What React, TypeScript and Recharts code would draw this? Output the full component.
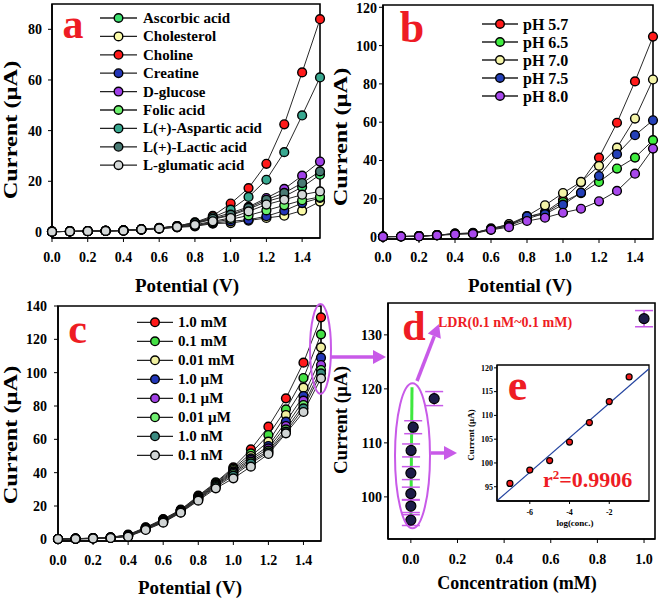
import { LineChart, ComposedChart, Line, Scatter, ErrorBar, XAxis, YAxis, ReferenceArea, Legend, Label } from 'recharts';

const serif = "'Liberation Serif', 'Times New Roman', serif";
const red = '#ee1c24';
const violet = '#c85ae8';

/* shared x values for panels a-c */
const potential = [0, 0.1, 0.2, 0.3, 0.4, 0.5, 0.6, 0.7, 0.8, 0.9, 1.0, 1.1, 1.2, 1.3, 1.4, 1.5];
const potentialTicks = [0, 0.2, 0.4, 0.6, 0.8, 1.0, 1.2, 1.4];

/* panel a: interferents */
const speciesNames = ['Ascorbic acid', 'Cholesterol', 'Choline', 'Creatine', 'D-glucose', 'Folic acid', 'L(+)-Aspartic acid', 'L(+)-Lactic acid', 'L-glumatic acid'];
const speciesColors = ['#3ee070', '#fbfba8', '#ff1a1a', '#2436b8', '#a040e8', '#6cf06c', '#38a890', '#4a7a74', '#d4d8d8'];
const ascorbic = [0.1, 0.2, 0.3, 0.4, 0.6, 1.0, 1.5, 2.2, 3.3, 5.0, 6.5, 9.0, 12.0, 14.0, 17.7, 22.6];
const cholesterol = [0.1, 0.2, 0.3, 0.4, 0.5, 0.9, 1.3, 1.8, 2.2, 3.3, 3.5, 4.5, 5.5, 6.4, 8.4, 12.0];
const choline = [0.1, 0.2, 0.3, 0.4, 0.6, 1.1, 1.6, 2.3, 3.8, 6.3, 11.2, 17.3, 26.9, 42.5, 63.0, 84.0];
const creatine = [0.1, 0.2, 0.3, 0.4, 0.5, 0.9, 1.3, 1.9, 2.5, 3.5, 4.2, 4.8, 6.2, 8.4, 11.4, 13.4];
const glucose = [0.1, 0.2, 0.3, 0.4, 0.6, 1.0, 1.5, 2.2, 3.5, 5.5, 7.5, 9.9, 13.4, 17.0, 22.2, 27.8];
const folic = [0.1, 0.2, 0.3, 0.4, 0.5, 0.9, 1.4, 2.0, 2.6, 3.8, 5.0, 6.5, 8.5, 10.5, 12.5, 13.8];
const aspartic = [0.1, 0.2, 0.3, 0.4, 0.6, 1.0, 1.5, 2.3, 3.7, 5.8, 8.8, 13.8, 20.6, 31.5, 46.0, 61.0];
const lactic = [0.1, 0.2, 0.3, 0.4, 0.6, 1.0, 1.5, 2.2, 3.4, 5.2, 6.8, 9.5, 12.7, 15.4, 19.3, 23.9];
const glumatic = [0.1, 0.2, 0.3, 0.4, 0.5, 1.0, 1.4, 2.0, 2.8, 4.2, 5.5, 8.1, 10.8, 12.7, 14.7, 16.0];

/* panel b: pH */
const phNames = ['pH 5.7', 'pH 6.5', 'pH 7.0', 'pH 7.5', 'pH 8.0'];
const phColors = ['#ff1a1a', '#40ee40', '#f4f4a8', '#2440b8', '#a848ec'];
const ph57 = [0.2, 0.3, 0.5, 1.0, 1.8, 2.0, 4.5, 6.5, 10.5, 13.0, 19.5, 28.5, 41.5, 59.7, 81.3, 104.7];
const ph65 = [0.2, 0.3, 0.5, 1.0, 1.7, 2.0, 4.0, 6.0, 9.5, 12.5, 18.3, 23.0, 28.8, 35.8, 41.5, 50.6];
const ph70 = [0.2, 0.3, 0.5, 1.0, 1.8, 2.2, 4.2, 6.8, 11.0, 16.6, 23.0, 28.8, 37.2, 46.7, 61.9, 82.3];
const ph75 = [0.2, 0.3, 0.5, 1.0, 1.7, 2.0, 4.0, 6.0, 10.8, 12.0, 16.9, 23.2, 31.9, 43.3, 53.2, 61.0];
const ph80 = [0.2, 0.3, 0.3, 0.9, 1.4, 1.7, 3.8, 5.2, 8.4, 10.1, 12.7, 14.8, 18.7, 24.1, 33.1, 46.2];

/* panel c: concentration */
const concNames = ['1.0 mM', '0.1 mM', '0.01 mM', '1.0 \u00b5M', '0.1 \u00b5M', '0.01 \u00b5M', '1.0 nM', '0.1 nM'];
const concColors = ['#ff1a1a', '#44e044', '#f0f0a0', '#2236b8', '#a040e4', '#70f070', '#3a8a80', '#d0d4d4'];
const mM1 = [0.2, 0.4, 0.7, 1.2, 2.8, 7.2, 12.2, 17.8, 26.2, 34.2, 43.2, 54.0, 67.6, 84.6, 106.0, 133.2];
const mM01 = [0.2, 0.4, 0.7, 1.1, 2.6, 7.0, 11.8, 17.6, 25.8, 33.8, 42.4, 51.6, 62.6, 78.0, 96.8, 123.0];
const mM001 = [0.2, 0.4, 0.6, 1.1, 2.5, 6.8, 11.5, 17.3, 25.4, 33.2, 41.6, 50.0, 58.6, 74.6, 91.0, 115.2];
const uM1 = [0.2, 0.4, 0.6, 1.0, 2.3, 6.6, 11.2, 17.0, 25.0, 32.8, 40.8, 48.6, 56.0, 70.6, 86.0, 109.0];
const uM01 = [0.2, 0.4, 0.6, 1.0, 2.2, 6.4, 10.9, 16.8, 24.6, 32.4, 40.0, 47.6, 54.6, 68.0, 83.2, 104.6];
const uM001 = [0.2, 0.3, 0.5, 0.9, 2.0, 6.2, 10.6, 16.5, 24.2, 32.0, 39.2, 46.6, 53.2, 66.0, 80.6, 101.6];
const nM1 = [0.2, 0.3, 0.5, 0.9, 1.8, 5.9, 10.3, 16.2, 23.8, 31.4, 38.2, 45.6, 52.2, 64.6, 78.6, 99.6];
const nM01 = [0.2, 0.3, 0.5, 0.8, 1.6, 5.6, 10.0, 16.0, 23.2, 30.6, 36.6, 43.6, 51.2, 63.6, 76.4, 96.6];

/* panel d: calibration */
const concentration = [0.0000001, 0.000001, 0.00001, 0.0001, 0.001, 0.01, 0.1, 1.0];
const responseCurrent = [95.7, 98.3, 100.6, 104.4, 108.6, 112.9, 118.2, 133.0];
const responseError = [1.0, 1.2, 1.2, 1.2, 1.2, 1.2, 1.3, 1.5];
const ldrConc = [0.0, 0.005];
const ldrCurrent = [95.4, 120.3];

/* panel e: log fit */
const logConc = [-7, -6, -5, -4, -3, -2, -1];
const insetCurrent = [95.7, 98.5, 100.5, 104.4, 108.5, 112.9, 118.1];
const fitLog = [-7.65, 0];
const fitCurrent = [92.05, 119.8];

function toRows(series: number[][]) {
  return potential.map((p, i) => {
    const row: Record<string, number> = { p };
    series.forEach((s, k) => (row['s' + k] = s[i]));
    return row;
  });
}

const rowsA = toRows([ascorbic, cholesterol, choline, creatine, glucose, folic, aspartic, lactic, glumatic]);
const rowsB = toRows([ph57, ph65, ph70, ph75, ph80]);
const rowsC = toRows([mM1, mM01, mM001, uM1, uM01, uM001, nM1, nM01]);
const rowsD = concentration.map((x, i) => ({ x, y: responseCurrent[i], err: responseError[i] }));
const rowsLdr = ldrConc.map((x, i) => ({ x, y: ldrCurrent[i] }));
const rowsE = logConc.map((x, i) => ({ x, y: insetCurrent[i] }));
const rowsFit = fitLog.map((x, i) => ({ x, y: fitCurrent[i] }));

const tickStyle = { fontSize: 14, fontWeight: 700, fill: '#000', fontFamily: serif };
const bold = { fontFamily: serif, fontWeight: 700, fill: '#000' };

// the source figure is stretched vertically, so the rotated titles are stretched along their length
function YTitle({ x, y, stretch = 1, size = 19 }: { x: number; y: number; stretch?: number; size?: number }) {
  return (
    <text x={0} y={0} transform={`translate(${x} ${y}) rotate(-90) scale(${stretch} 1)`} textAnchor="middle"
      dominantBaseline="central" fontSize={size} {...bold}>
      Current (µA)
    </text>
  );
}

function Letter({ x, y, ch, size = 44 }: { x: number; y: number; ch: string; size?: number }) {
  return (
    <text x={x} y={y} textAnchor="middle" fontSize={size} fontFamily={serif} fontWeight={700} fill={red}>
      {ch}
    </text>
  );
}

interface PanelProps {
  left: number;
  top: number;
  width: number;
  height: number;
  margin: { top: number; right: number; left: number; bottom: number };
  yWidth: number;
  xHeight: number;
  yDomain: [number, number];
  yTicks: number[];
  yTickMargin: number;
  xTickMargin: number;
  rows: Record<string, number>[];
  names: string[];
  colors: string[];
  legend: { lineX: [number, number]; textX: number; y0: number; step: number; fontSize: number };
  letter: { x: number; y: number; ch: string; size?: number };
  yTitle: { x: number; y: number };
  xTitle: { x: number; y: number };
}

function CurvePanel(props: PanelProps) {
  const { legend } = props;
  return (
    <div style={{ position: 'absolute', left: props.left, top: props.top }}>
      <LineChart width={props.width} height={props.height} data={props.rows} margin={props.margin}>
        <ReferenceArea x1={0} x2={1.5} y1={props.yDomain[0]} y2={props.yDomain[1]} fill="none" stroke="#000" strokeWidth={1.6} ifOverflow="visible" />
        <XAxis type="number" dataKey="p" domain={[0, 1.5]} ticks={potentialTicks} tickFormatter={(v: number) => v.toFixed(1)}
          height={props.xHeight} tick={tickStyle} tickSize={4} tickMargin={props.xTickMargin}
          axisLine={{ stroke: '#000', strokeWidth: 1.6 }} tickLine={{ stroke: '#000' }}>
          <Label content={() => (
            <text x={props.xTitle.x} y={props.xTitle.y} textAnchor="middle" dominantBaseline="central" fontSize={19} {...bold}>
              Potential (V)
            </text>
          )} />
        </XAxis>
        <YAxis type="number" domain={props.yDomain} ticks={props.yTicks} width={props.yWidth} tick={tickStyle}
          tickSize={4} tickMargin={props.yTickMargin} axisLine={{ stroke: '#000', strokeWidth: 1.6 }} tickLine={{ stroke: '#000' }}>
          <Label content={() => (
            <g>
              <YTitle x={props.yTitle.x} y={props.yTitle.y} stretch={1.28} />
              <Letter {...props.letter} />
            </g>
          )} />
        </YAxis>
        <Legend layout="vertical" align="center" verticalAlign="middle"
          wrapperStyle={{ left: 0, top: 0, width: props.width, height: props.height, pointerEvents: 'none' }}
          content={() => (
            <svg width={props.width} height={props.height} style={{ display: 'block' }}>
              {props.names.map((name, i) => {
                const y = legend.y0 + i * legend.step;
                const mx = (legend.lineX[0] + legend.lineX[1]) / 2;
                return (
                  <g key={name}>
                    <line x1={legend.lineX[0]} x2={legend.lineX[1]} y1={y} y2={y} stroke="#222" strokeWidth={1.3} />
                    <circle cx={mx} cy={y} r={4.3} fill={props.colors[i]} stroke="#000" strokeWidth={1.4} />
                    <text x={legend.textX} y={y} dominantBaseline="central" fontSize={legend.fontSize} {...bold}>{name}</text>
                  </g>
                );
              })}
            </svg>
          )} />
        {props.names.map((name, i) => (
          <Line key={name} dataKey={'s' + i} name={name} stroke="#2a2a2a" strokeWidth={1}
            dot={{ r: 4.4, fill: props.colors[i], stroke: '#000', strokeWidth: 1.4 }} isAnimationActive={false} />
        ))}
      </LineChart>
    </div>
  );
}

function Arrow({ from, to }: { from: [number, number]; to: [number, number] }) {
  const [x1, y1] = from;
  const [x2, y2] = to;
  const len = Math.hypot(x2 - x1, y2 - y1);
  const ux = (x2 - x1) / len;
  const uy = (y2 - y1) / len;
  const bx = x2 - ux * 13;
  const by = y2 - uy * 13;
  return (
    <g>
      <line x1={x1} y1={y1} x2={bx} y2={by} stroke={violet} strokeWidth={3.5} />
      <polygon points={`${x2},${y2} ${bx - uy * 7},${by + ux * 7} ${bx + uy * 7},${by - ux * 7}`} fill={violet} />
    </g>
  );
}

export default function App() {
  return (
    <div style={{ position: 'absolute', left: 0, top: 0, width: 661, height: 601, background: '#fff', overflow: 'hidden' }}>
      <CurvePanel left={0} top={0} width={330} height={300} margin={{ top: 4, right: 10, left: 0, bottom: 0 }}
        yWidth={52} xHeight={62} yDomain={[-2.4, 90]} yTicks={[0, 20, 40, 60, 80]} yTickMargin={6} xTickMargin={10}
        rows={rowsA} names={speciesNames} colors={speciesColors}
        legend={{ lineX: [100, 137], textX: 143, y0: 18, step: 18.4, fontSize: 15 }}
        letter={{ x: 73, y: 38, ch: 'a', size: 42 }} yTitle={{ x: 11, y: 130 }} xTitle={{ x: 187, y: 285 }} />

      <CurvePanel left={330} top={0} width={331} height={300} margin={{ top: 5, right: 8, left: 0, bottom: 0 }}
        yWidth={53} xHeight={61} yDomain={[-1, 121.2]} yTicks={[0, 20, 40, 60, 80, 100, 120]} yTickMargin={2} xTickMargin={9}
        rows={rowsB} names={phNames} colors={phColors}
        legend={{ lineX: [152, 188], textX: 193, y0: 24, step: 18, fontSize: 16 }}
        letter={{ x: 82, y: 42, ch: 'b', size: 44 }} yTitle={{ x: 11, y: 137 }} xTitle={{ x: 190, y: 285 }} />

      <CurvePanel left={0} top={290} width={330} height={311} margin={{ top: 16, right: 9, left: 0, bottom: 0 }}
        yWidth={58} xHeight={60} yDomain={[-1, 140]} yTicks={[0, 20, 40, 60, 80, 100, 120, 140]} yTickMargin={7} xTickMargin={10}
        rows={rowsC} names={concNames} colors={concColors}
        legend={{ lineX: [137, 173], textX: 178, y0: 32.3, step: 19, fontSize: 15 }}
        letter={{ x: 77.5, y: 53, ch: 'c', size: 42 }} yTitle={{ x: 11, y: 145 }} xTitle={{ x: 190, y: 297 }} />

      {/* panel d */}
      <div style={{ position: 'absolute', left: 330, top: 290 }}>
        <ComposedChart width={331} height={311} margin={{ top: 13, right: 6, left: 0, bottom: 0 }}>
          <ReferenceArea x1={-0.098} x2={1.047} y1={92.2} y2={135.9} fill="none" stroke="#000" strokeWidth={1.6} ifOverflow="visible" />
          <XAxis type="number" dataKey="x" domain={[-0.098, 1.047]} ticks={[0, 0.2, 0.4, 0.6, 0.8, 1.0]}
            tickFormatter={(v: number) => v.toFixed(1)} height={62} tick={tickStyle} tickSize={4} tickMargin={11}
            axisLine={{ stroke: '#000', strokeWidth: 1.6 }} tickLine={{ stroke: '#000' }}>
            <Label content={() => (
              <text x={187} y={293} textAnchor="middle" dominantBaseline="central" fontSize={18} {...bold}>
                Concentration (mM)
              </text>
            )} />
          </XAxis>
          <YAxis type="number" dataKey="y" domain={[92.2, 135.9]} ticks={[100, 110, 120, 130]} width={58} tick={tickStyle}
            tickSize={4} tickMargin={2} axisLine={{ stroke: '#000', strokeWidth: 1.6 }} tickLine={{ stroke: '#000' }}>
            <Label content={() => (
              <g>
                <YTitle x={10} y={130} />
                <Letter x={84} y={50} ch="d" size={42} />
                <text x={108} y={32} dominantBaseline="central" fontSize={14} fontFamily={serif} fontWeight={700} fill={red}>
                  LDR(0.1 nM~0.1 mM)
                </text>
              </g>
            )} />
          </YAxis>
          <Line data={rowsLdr} dataKey="y" stroke="#3ee83e" strokeWidth={3} dot={false} isAnimationActive={false} />
          <Scatter data={rowsD} dataKey="y" isAnimationActive={false}
            shape={(p: any) => <circle cx={p.cx} cy={p.cy} r={5} fill="#1c1c48" stroke="#000" strokeWidth={1.2} />}>
            <ErrorBar dataKey="err" direction="y" width={9} stroke={violet} strokeWidth={1.5} />
          </Scatter>
        </ComposedChart>
      </div>

      {/* inset e */}
      <div style={{ position: 'absolute', left: 466, top: 360 }}>
        <ComposedChart width={186} height={171} margin={{ top: 5, right: 3, left: 0, bottom: 0 }}>
          <ReferenceArea x1={-7.65} x2={0} y1={92} y2={120.6} fill="#fff" stroke="#000" strokeWidth={1.3} ifOverflow="visible" />
          <XAxis type="number" dataKey="x" domain={[-7.65, 0]} ticks={[-6, -4, -2]} height={30}
            tick={{ ...tickStyle, fontSize: 8 }} tickSize={3} tickMargin={5}
            axisLine={{ stroke: '#000', strokeWidth: 1.3 }} tickLine={{ stroke: '#000' }}>
            <Label content={() => (
              <text x={109} y={163} textAnchor="middle" dominantBaseline="central" fontSize={9} {...bold}>log(conc.)</text>
            )} />
          </XAxis>
          <YAxis type="number" dataKey="y" domain={[92, 120.6]} ticks={[95, 100, 105, 110, 115, 120]} width={31}
            tick={{ ...tickStyle, fontSize: 8 }} tickSize={3} tickMargin={1}
            axisLine={{ stroke: '#000', strokeWidth: 1.3 }} tickLine={{ stroke: '#000' }}>
            <Label content={() => (
              <g>
                <YTitle x={5} y={75} size={9} />
                <Letter x={51.5} y={40} ch="e" size={44} />
                <text x={77} y={127} fontSize={22} fontFamily={serif} fontWeight={700} fill={red}>
                  r<tspan dy={-8} fontSize={13}>2</tspan><tspan dy={8}>=0.9906</tspan>
                </text>
              </g>
            )} />
          </YAxis>
          <Line data={rowsFit} dataKey="y" stroke="#2444a0" strokeWidth={1.2} dot={false} isAnimationActive={false} />
          <Scatter data={rowsE} dataKey="y" isAnimationActive={false}
            shape={(p: any) => <circle cx={p.cx} cy={p.cy} r={3} fill="#f01c1c" stroke="#000" strokeWidth={1.2} />} />
        </ComposedChart>
      </div>

      {/* annotations */}
      <svg width={661} height={601} style={{ position: 'absolute', left: 0, top: 0, pointerEvents: 'none' }}>
        <ellipse cx={320.5} cy={349} rx={10.5} ry={45} fill="none" stroke={violet} strokeWidth={2} />
        <ellipse cx={412.5} cy={455.8} rx={17.5} ry={72.5} fill="none" stroke={violet} strokeWidth={2} />
        <Arrow from={[331, 357]} to={[386, 357]} />
        <Arrow from={[417, 381]} to={[439, 324]} />
        <Arrow from={[431, 453]} to={[457, 453]} />
      </svg>
    </div>
  );
}
